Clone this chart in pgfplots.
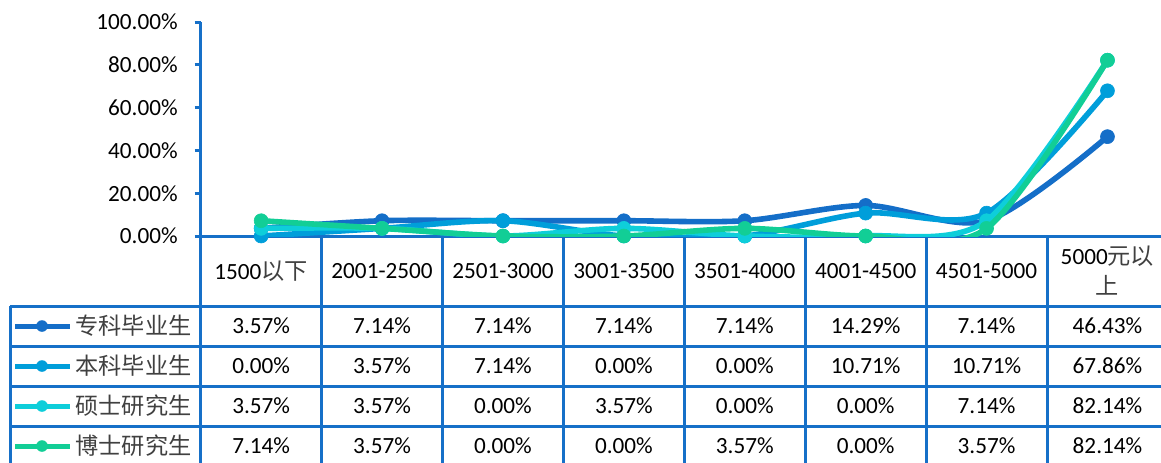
\documentclass[border=0pt]{standalone}
\usepackage{fontspec}
\setmainfont{Carlito}
\newfontfamily\cjk{Noto Sans CJK SC}
\usepackage{pgfplots}
\usepackage{pgfplotstable}
\pgfplotsset{compat=1.18}
\definecolor{gridblue}{RGB}{22,112,200}
\definecolor{zk}{RGB}{20,110,200}
\definecolor{bk}{RGB}{0,158,218}
\definecolor{ss}{RGB}{14,206,218}
\definecolor{bs}{RGB}{18,206,150}
\pgfkeys{/pgf/number format/assume math mode=true}

% salary share by degree, in percent
\pgfplotstableread{
x  zk    bk    ss    bs
0  3.57  0.00  3.57  7.14
1  7.14  3.57  3.57  3.57
2  7.14  7.14  0.00  0.00
3  7.14  0.00  3.57  0.00
4  7.14  0.00  0.00  3.57
5  14.29 10.71 0.00  0.00
6  7.14  10.71 7.14  3.57
7  46.43 67.86 82.14 82.14
}\salary

\begin{document}
\begin{tikzpicture}[font=\fontsize{11.6}{15}\selectfont]
\useasboundingbox (0,0) rectangle (580.5pt,-231pt);
\begin{scope}[x=0.5pt,y=-0.5pt]
  % data table grid
  \draw[gridblue,line width=1.5pt] (200.7,22) -- (200.7,470);
  \draw[gridblue,line width=1.5pt] (200.7,236) -- (1180,236);
  \foreach \i in {1,...,8}
    \draw[gridblue,line width=1.5pt] ({200.7+120.9*\i},236) -- ({200.7+120.9*\i},470);
  \foreach \yy in {306,346,386,426}
    \draw[gridblue,line width=1.5pt] (10,\yy) -- (1180,\yy);
  \draw[gridblue,line width=1.5pt] (10,306) -- (10,470);
  % header
  \foreach \lab [count=\i from 0] in {1500{\cjk\color{black!75}以下},2001-2500,2501-3000,3001-3500,3501-4000,4001-4500,4501-5000}
    \node at ({200.7+120.9*(\i+0.5)},271) {\lab};
  \node[align=center] at ({200.7+120.9*7.5},271) {5000{\cjk\color{black!75}元以}\\{\cjk\color{black!75}上}};
  % rows: legend key, name, values
  \foreach \col/\name [count=\r from 0] in {zk/专科毕业生,bk/本科毕业生,ss/硕士研究生,bs/博士研究生} {
    \draw[\col,line width=2.5pt] (15,{326+40*\r}) -- (70,{326+40*\r});
    \fill[\col] (42,{326+40*\r}) circle[radius=2.9pt];
    \node[anchor=west,inner sep=0pt,text=black!75] at (75,{326+40*\r}) {\cjk\name};
    \foreach \i in {0,...,7} {
      \pgfplotstablegetelem{\i}{\col}\of\salary
      \node at ({200.7+120.9*(\i+0.5)},{326+40*\r}) {\pgfmathprintnumber[fixed,fixed zerofill,precision=2]{\pgfplotsretval}\%};
    }
  }
\end{scope}
\begin{axis}[at={(100.35pt,-118pt)},anchor=south west,
  x=60.45pt,y=1.07pt,xmin=-0.5,xmax=7.5,ymin=0,ymax=100,
  axis line style={draw=none},xtick=\empty,ytick={0,20,...,100},ytick pos=left,
  tick align=outside,major tick length=3pt,tick style={gridblue,line width=1.5pt},
  yticklabel={\pgfmathprintnumber[fixed,fixed zerofill,precision=2]{\tick}\%},
  yticklabel style={xshift=-5pt},
  clip mode=individual,
  every axis plot/.append style={line width=2.8pt,smooth,mark=*,mark size=3.5pt,
    mark options={line width=0.3pt}}]
\addplot[zk] table[x=x,y=zk]{\salary};
\addplot[bk] table[x=x,y=bk]{\salary};
\addplot[ss] table[x=x,y=ss]{\salary};
\addplot[bs] table[x=x,y=bs]{\salary};
\end{axis}
\end{tikzpicture}
\end{document}
